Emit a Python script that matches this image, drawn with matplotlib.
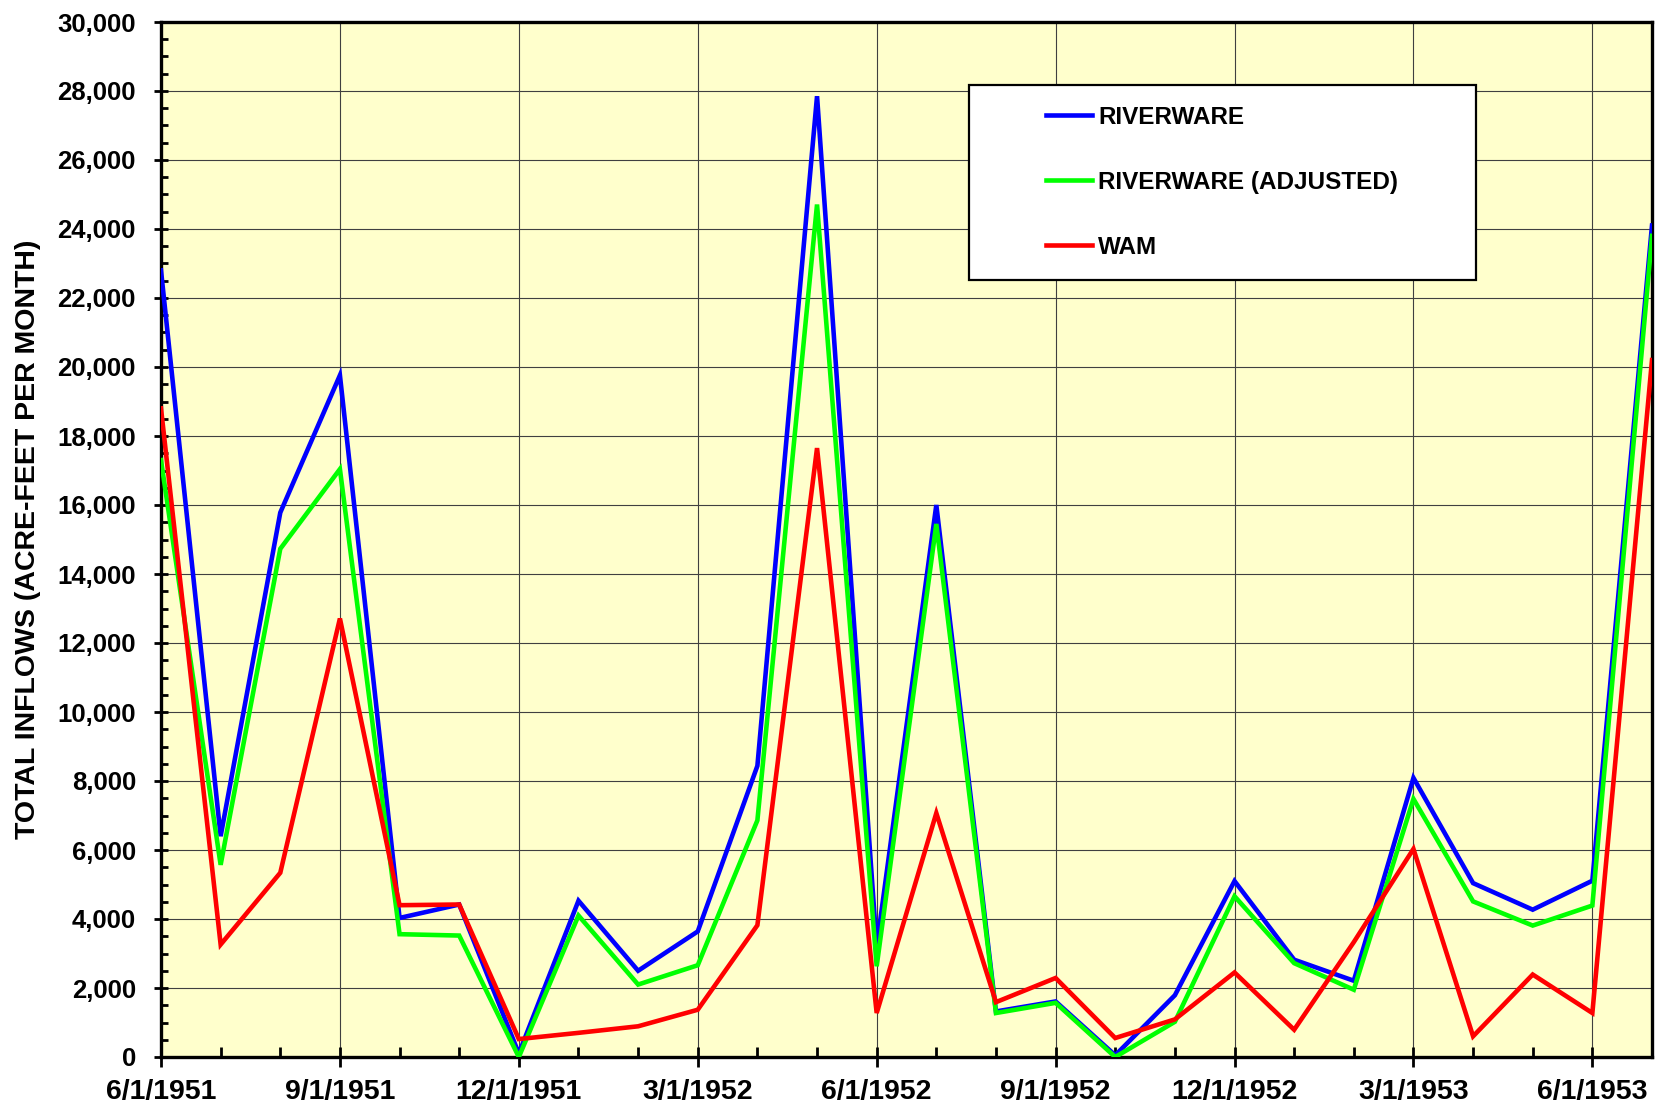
import matplotlib
matplotlib.use("Agg")
import matplotlib.pyplot as plt
from matplotlib.ticker import MultipleLocator, FuncFormatter, FixedLocator
from matplotlib.legend_handler import HandlerLine2D

# ---- data (monthly, 6/1/1951 .. 7/1/1953) ----
months = list(range(26))
tick_positions = [0, 3, 6, 9, 12, 15, 18, 21, 24]
tick_labels = ["6/1/1951", "9/1/1951", "12/1/1951", "3/1/1952", "6/1/1952",
               "9/1/1952", "12/1/1952", "3/1/1953", "6/1/1953"]

riverware = [22800, 6400, 15780, 19760, 4030, 4420, 100, 4530, 2500, 3640,
             8440, 27850, 3200, 16000, 1320, 1610, 50, 1790, 5100, 2820,
             2210, 8090, 5040, 4270, 5110, 24100]
riverware_adj = [17300, 5570, 14730, 17040, 3560, 3520, 0, 4100, 2100, 2660,
                 6860, 24710, 2630, 15450, 1275, 1570, 0, 1020, 4660, 2720,
                 1950, 7480, 4510, 3810, 4390, 23800]
wam = [18800, 3260, 5340, 12710, 4400, 4420, 520, 700, 890, 1370,
       3820, 17650, 1275, 7070, 1590, 2290, 550, 1090, 2450, 790,
       3330, 6030, 600, 2390, 1275, 20200]

series_names = ["RIVERWARE", "RIVERWARE (ADJUSTED)", "WAM"]
series_colors = ["#0000FF", "#00FF00", "#FF0000"]

plt.rcParams['font.family'] = ['Liberation Sans', 'DejaVu Sans']
plt.rcParams['font.weight'] = 'bold'

W, H = 1658, 1110
fig = plt.figure(figsize=(W / 100, H / 100), dpi=100)
left, right, top, bottom = 161, 1652, 22, 1057
ax = fig.add_axes([left / W, 1 - bottom / H, (right - left) / W, (bottom - top) / H])
ax.set_facecolor("#FFFFCC")

for vals, name, col in zip([riverware, riverware_adj, wam], series_names, series_colors):
    ax.plot(months, vals, color=col, lw=3.3, label=name, solid_joinstyle='miter', zorder=3)

ax.set_xlim(0, 25)
ax.set_ylim(0, 30000)

ax.xaxis.set_major_locator(FixedLocator(tick_positions))
ax.set_xticklabels(tick_labels)
ax.xaxis.set_minor_locator(MultipleLocator(1))
ax.yaxis.set_major_locator(MultipleLocator(2000))
ax.yaxis.set_minor_locator(MultipleLocator(500))
ax.yaxis.set_major_formatter(FuncFormatter(lambda v, p: f"{int(v):,}"))

ax.grid(True, which='major', color='#404040', lw=0.8)
ax.set_axisbelow(True)

for s in ax.spines.values():
    s.set_linewidth(2.4)
    s.set_color('black')

ax.tick_params(axis='y', which='major', direction='inout', length=10, width=2,
               labelsize=18.5, pad=13)
ax.tick_params(axis='y', which='minor', direction='in', length=5, width=2)
ax.tick_params(axis='x', which='major', direction='inout', length=14, width=2,
               labelsize=20.5, pad=9)
ax.tick_params(axis='x', which='minor', direction='in', length=7, width=2)
for lab in ax.get_xticklabels() + ax.get_yticklabels():
    lab.set_fontweight('bold')

ax.set_ylabel("TOTAL INFLOWS (ACRE-FEET PER MONTH)", fontsize=20.5, fontweight='bold')
ax.yaxis.set_label_coords(-0.0805, 0.5)

leg = ax.legend(loc='upper left', bbox_to_anchor=(0.542, 0.939, 0.340, 0.0),
                mode='expand', borderaxespad=0, fancybox=False, framealpha=1,
                edgecolor='black', facecolor='white', prop={'weight': 'bold', 'size': 17.5},
                handlelength=4.2, handletextpad=0.25, borderpad=0.85, labelspacing=1.73,
                handler_map={matplotlib.lines.Line2D: HandlerLine2D(xpad=2.3)})
leg.get_frame().set_linewidth(1.6)
for h in leg.get_lines():
    h.set_linewidth(3.3)

fig.savefig("out.png", dpi=100)
